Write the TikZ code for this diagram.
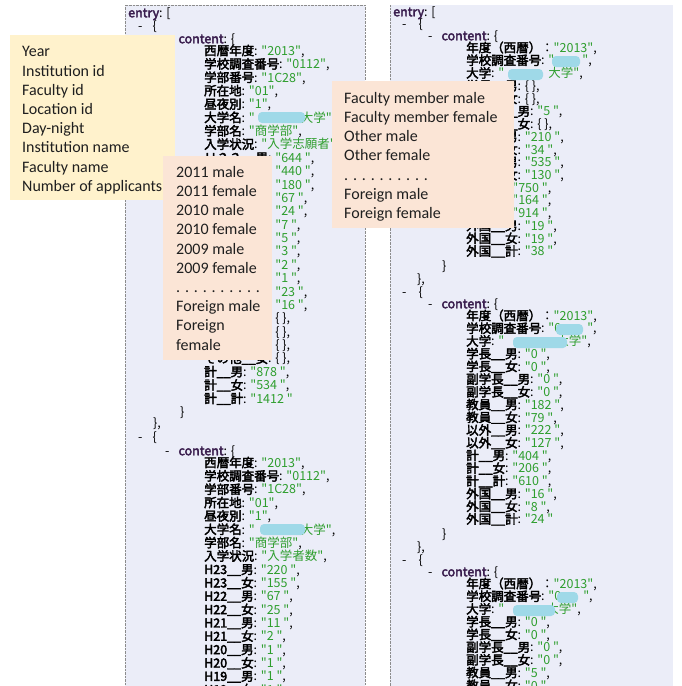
\documentclass[tikz,border=0pt]{standalone}
\usepackage{fontspec}
\usepackage{xcolor}
\usepackage{tikz}
\usetikzlibrary{positioning}
\newfontfamily\jsonfont{Noto Sans CJK JP}
\newfontfamily\jsonkeyfont[FakeBold=3]{Noto Sans CJK JP}
\newfontfamily\notefont{Carlito}
\definecolor{PanelBlue}{HTML}{EBEDF8}
\definecolor{PanelLine}{HTML}{8C8C8C}
\definecolor{JsonGreen}{HTML}{2E9E2E}
\definecolor{JsonPurple}{HTML}{3A1E4E}
\definecolor{NoteYellow}{HTML}{FFF2CC}
\definecolor{NotePink}{HTML}{FBE5D6}
\definecolor{NoteText}{HTML}{1F1F1F}
\definecolor{BlurCyan}{HTML}{9FD9E8}

\newcommand{\kv}[2]{{\jsonkeyfont #1}: \textcolor{JsonGreen}{"#2"},}
\newcommand{\kvlast}[2]{{\jsonkeyfont #1}: \textcolor{JsonGreen}{"#2"}}
\newcommand{\kempty}[1]{{\jsonkeyfont #1}: \{ \},}
\newcommand{\jkey}[1]{\textcolor{JsonPurple}{\jsonkeyfont #1}}
\newcommand{\yearline}{{\jsonkeyfont 年度（西暦）}：\textcolor{JsonGreen}{"2013"},}

\begin{document}
\begin{tikzpicture}[x=1pt, y=-1pt]
    \tikzstyle{json} = [font=\jsonfont\fontsize{12.5}{13}\selectfont, inner sep=0pt, anchor=west, text height=9pt, text depth=2.5pt]
    \tikzstyle{notebox} = [anchor=north west, inner sep=0pt]
    \tikzstyle{note} = [font=\notefont\fontsize{16}{19.2}\selectfont, text=NoteText, anchor=west, align=left, inner sep=0pt]
    \tikzstyle{blur} = [fill=BlurCyan, rounded corners=4pt]

    \useasboundingbox (0,0) rectangle (681,686);

    % left panel: applicants
    \begin{scope}
        \clip (125,5) rectangle (365,686);
        \fill[PanelBlue] (125,5) rectangle (365,686);
        \node[json] (lentry) at (128,14) {\jkey{entry}: [};
        \node[json] (lopen1) at (138,27) {-\hspace{10pt}\{};
        \node[json] (lcont1) at (165,40) {-\hspace{9pt}\jkey{content}: \{};
        \foreach \jline [count=\i from 0] in {\kv{西暦年度}{2013}, \kv{学校調査番号}{0112}, \kv{学部番号}{1C28}, \kv{所在地}{01}, \kv{昼夜別}{1}, \kv{大学名}{\hspace{46pt}大学}, \kv{学部名}{商学部}, \kv{入学状況}{入学志願者},
            \kv{Ｈ２３\_\_男}{644 }, \kv{Ｈ２３\_\_女}{440 }, \kv{Ｈ２２\_\_男}{180 }, \kv{Ｈ２２\_\_女}{67 }, \kv{Ｈ２１\_\_男}{24 }, \kv{Ｈ２１\_\_女}{7 }, \kv{Ｈ２０\_\_男}{5 }, \kv{Ｈ２０\_\_女}{3 }, \kv{Ｈ１９\_\_男}{2 }, \kv{Ｈ１９\_\_女}{1 },
            \kv{社会人\_\_男}{23 }, \kv{社会人\_\_女}{16 }, \kempty{留学生\_\_男}, \kempty{留学生\_\_女}, \kempty{その他\_\_男}, \kempty{その他\_\_女}, \kv{計\_\_男}{878 }, \kv{計\_\_女}{534 }, \kvlast{計\_\_計}{1412 }}
            \node[json] (la\i) at (204,{52+13.38*\i}) {\jline};
        \node[json] (lclose1) at (180,413) {\}};
        \node[json] (lclose2) at (153,424) {\},};
        \node[json] (lopen2) at (138,438) {-\hspace{10pt}\{};
        \node[json] (lcont2) at (165,452) {-\hspace{9pt}\jkey{content}: \{};
        \foreach \jline [count=\i from 0] in {\kv{西暦年度}{2013}, \kv{学校調査番号}{0112}, \kv{学部番号}{1C28}, \kv{所在地}{01}, \kv{昼夜別}{1}, \kv{大学名}{\hspace{46pt}大学}, \kv{学部名}{商学部}, \kv{入学状況}{入学者数},
            \kv{H23\_\_男}{220 }, \kv{H23\_\_女}{155 }, \kv{H22\_\_男}{67 }, \kv{H22\_\_女}{25 }, \kv{H21\_\_男}{11 }, \kv{H21\_\_女}{2 }, \kv{H20\_\_男}{1 }, \kv{H20\_\_女}{1 }, \kv{H19\_\_男}{1 }, \kv{H19\_\_女}{1 }}
            \node[json] (lb\i) at (204,{464+13.35*\i}) {\jline};
        \fill[blur] (258,112) rectangle (305,123);
        \fill[blur] (260,524) rectangle (305,535);
    \end{scope}
    \draw[PanelLine, densely dotted] (125,686) -- (125,5) -- (365,5) -- (365,686);

    % right panel: staff
    \begin{scope}
        \clip (390,5) rectangle (673,686);
        \fill[PanelBlue] (390,5) rectangle (673,686);
        \node[json] (rentry) at (393,13) {\jkey{entry}: [};
        \foreach \y/\n in {25/1, 293/2, 561/3} {
            \node[json] (ropen\n) at (402,\y) {-\hspace{12pt}\{};
            \node[json] (rcont\n) at (428,\y+12) {-\hspace{9pt}\jkey{content}: \{};
        }
        \foreach \jline [count=\i from 0] in {\yearline, \kv{学校調査番号}{\hspace{28pt}}, \kv{大学}{\hspace{44pt}大学}, \kempty{学長\_\_男}, \kempty{学長\_\_女}, \kv{副学長\_\_男}{5 }, \kempty{副学長\_\_女}, \kv{教員\_\_男}{210 }, \kv{教員\_\_女}{34 },
            \kv{以外\_\_男}{535 }, \kv{以外\_\_女}{130 }, \kv{計\_\_男}{750 }, \kv{計\_\_女}{164 }, \kv{計\_\_計}{914 }, \kv{外国\_\_男}{19 }, \kv{外国\_\_女}{19 }, \kvlast{外国\_\_計}{38 }}
            \node[json] (ra\i) at (466,{49+12.72*\i}) {\jline};
        \foreach \jline [count=\i from 0] in {\yearline, \kv{学校調査番号}{0\hspace{26pt}}, \kv{大学}{\hspace{52pt}大学}, \kv{学長\_\_男}{0 }, \kv{学長\_\_女}{0 }, \kv{副学長\_\_男}{0 }, \kv{副学長\_\_女}{0 }, \kv{教員\_\_男}{182 }, \kv{教員\_\_女}{79 },
            \kv{以外\_\_男}{222 }, \kv{以外\_\_女}{127 }, \kv{計\_\_男}{404 }, \kv{計\_\_女}{206 }, \kv{計\_\_計}{610 }, \kv{外国\_\_男}{16 }, \kv{外国\_\_女}{8 }, \kvlast{外国\_\_計}{24 }}
            \node[json] (rb\i) at (466,{317+12.72*\i}) {\jline};
        \foreach \jline [count=\i from 0] in {\yearline, \kv{学校調査番号}{0\hspace{22pt}}, \kv{大学}{\hspace{42pt}大学}, \kv{学長\_\_男}{0 }, \kv{学長\_\_女}{0 }, \kv{副学長\_\_男}{0 }, \kv{副学長\_\_女}{0 }, \kv{教員\_\_男}{5 }, \kv{教員\_\_女}{0 }}
            \node[json] (rc\i) at (466,{585+12.72*\i}) {\jline};
        \node[json] (rclose1) at (442,267) {\}};
        \node[json] (rclose2) at (417,280) {\},};
        \node[json] (rclose3) at (442,535) {\}};
        \node[json] (rclose4) at (417,548) {\},};
        \fill[blur] (552,56) rectangle (580,67);
        \fill[blur] (508,69) rectangle (543,80);
        \fill[blur] (556,324) rectangle (583,335);
        \fill[blur] (513,337) rectangle (567,348);
        \fill[blur] (557,592) rectangle (578,603);
        \fill[blur] (513,605) rectangle (555,616);
    \end{scope}
    \draw[PanelLine, densely dotted] (390,5) -- (390,686);

    % notes over the listing
    \node[notebox, fill=NoteYellow, minimum width=165pt, minimum height=165pt] (fields) at (10,35) {};
    \node[note, right=12pt of fields.west, yshift=-2.5pt] (fieldstext) {Year\\Institution id\\Faculty id\\Location id\\Day-night\\Institution name\\Faculty name\\Number of applicants};
    \node[notebox, fill=NotePink, minimum width=109pt, minimum height=204pt] (years) at (163,156) {};
    \node[note, right=13pt of years.west] (yearstext) {2011 male\\2011 female\\2010 male\\2010 female\\2009 male\\2009 female\\. . . . . . . . . .\\Foreign male\\Foreign\\female};
    \node[notebox, fill=NotePink, minimum width=182pt, minimum height=147pt] (staff) at (332,81) {};
    \node[note, right=12pt of staff.west, yshift=-2pt] (stafftext) {Faculty member male\\Faculty member female\\Other male\\Other female\\. . . . . . . . . .\\Foreign male\\Foreign female};
\end{tikzpicture}
\end{document}
